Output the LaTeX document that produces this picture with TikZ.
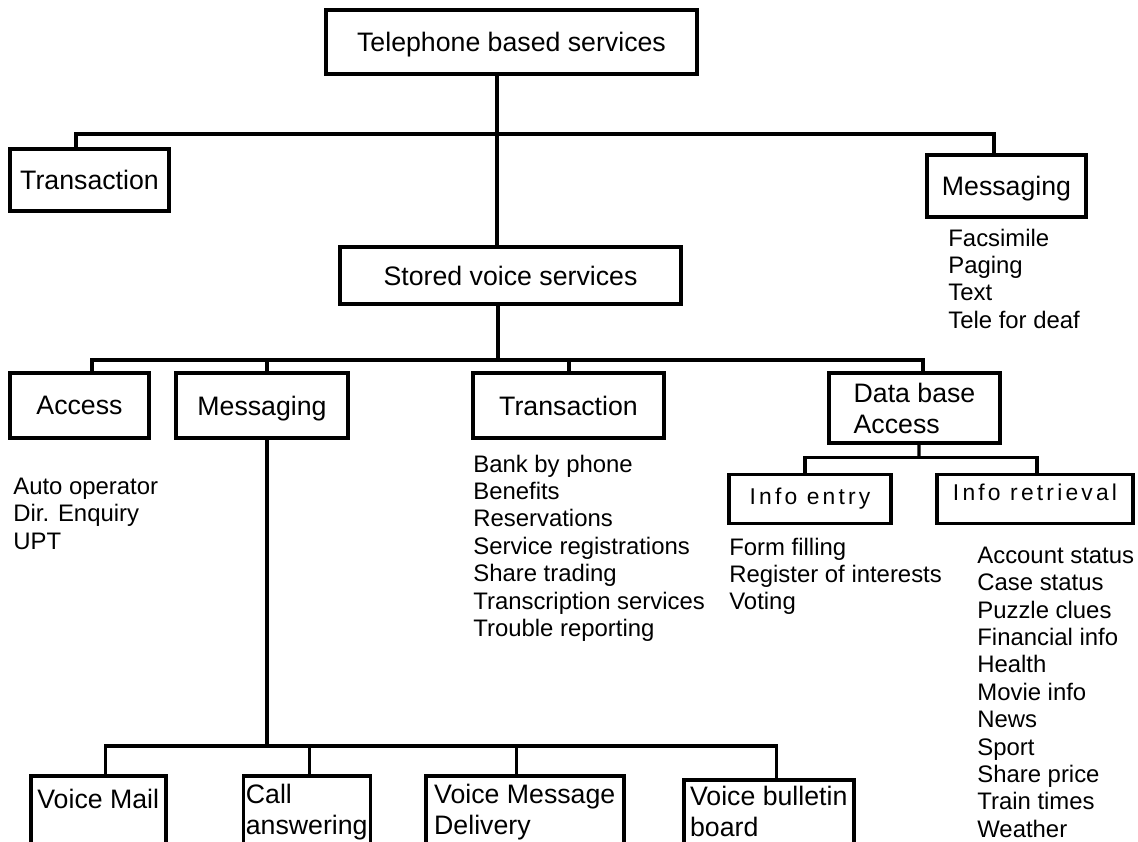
\documentclass[tikz,border=0pt]{standalone}
\usepackage{fontspec}
\setmainfont{Liberation Sans}
\usepackage{tikz}
\usetikzlibrary{positioning}
\newlength{\px}
\setlength{\px}{0.02cm}
\newcommand{\boxfont}{\fontsize{15.2}{17.6}\selectfont}
\newcommand{\listfont}{\fontsize{13.6}{15.6}\selectfont}
\newcommand{\infofont}{\fontsize{13}{15.6}\selectfont\addfontfeature{LetterSpace=14}}

\begin{document}
\begin{tikzpicture}
  [
    x=0.02cm, y=-0.02cm,
    Box/.style={rectangle, draw=black, line width=2pt, font=\boxfont, inner sep=2\px, text depth=0pt},
    Info/.style={rectangle, draw=black, line width=2pt, font=\infofont, inner sep=2\px, text depth=14\px},
    Leaf/.style={Box, anchor=north west, align=left, text depth=100\px},
    List/.style={anchor=north west, align=left, inner sep=0pt, font=\listfont},
    Line/.style={draw=black, line width=1.8pt}
  ]
  \useasboundingbox (0,0) rectangle (1138,841);
  \clip (0,0) rectangle (1138,841);
  % Nodes
  \node[Box, minimum width=371\px, minimum height=64\px] (tel) at (511.5,42) {Telephone based services};
  \node[Box, minimum width=159\px, minimum height=62\px] (trans1) at (89.5,180) {Transaction};
  \node[Box, minimum width=159\px, minimum height=62\px] (msg1) at (1006.5,186) {Messaging};
  \node[List] (faxlist) at (948,228.5) {Facsimile\\Paging\\Text\\Tele for deaf};
  \node[Box, minimum width=341\px, minimum height=57\px] (svs) at (510.5,275.5) {Stored voice services};
  \node[Box, minimum width=139\px, minimum height=65\px] (access) at (79.5,405.5) {Access};
  \node[Box, minimum width=172\px, minimum height=65\px] (msg2) at (262,405.5) {Messaging};
  \node[Box, minimum width=191\px, minimum height=65\px] (trans2) at (568.5,405.5) {Transaction};
  \node[Box, align=left, minimum width=171\px, minimum height=70\px] (dba) at (914.5,408) {Data base\\Access};
  \node[List] (accesslist) at (13,477.5) {Auto operator\\Dir. Enquiry\\UPT};
  \node[List] (translist) at (473,454.5) {Bank by phone\\Benefits\\Reservations\\Service registrations\\Share trading\\Transcription services\\Trouble reporting};
  \node[Info, minimum width=162\px, minimum height=49\px, text depth=5\px] (ientry) at (810,499) {Info entry};
  \node[Info, minimum width=196\px, minimum height=49\px] (iretr) at (1035,499) {Info retrieval};
  \node[List] (entrylist) at (729,537.5) {Form filling\\Register of interests\\Voting};
  \node[List] (retrlist) at (977,546.5) {Account status\\Case status\\Puzzle clues\\Financial info\\Health\\Movie info\\News\\Sport\\Share price\\Train times\\Weather};
  \node[Leaf, minimum width=135\px, inner ysep=13.5\px] (vmail) at (29,774) {Voice Mail};
  \node[Leaf, minimum width=127\px, inner ysep=8\px] (call) at (241.5,774) {Call\\answering};
  \node[Leaf, minimum width=198\px, inner ysep=8\px] (vmd) at (424,774) {Voice Message\\Delivery};
  \node[Leaf, minimum width=170\px, inner ysep=6\px] (vbb) at (682,778) {Voice bulletin\\board};
  \coordinate (hub1) at (497,134);
  \coordinate (hub2) at (498,360);
  \coordinate (hub3) at (267,746);
  \coordinate (hub4) at (919,457.5);
  % Lines
  \path [Line] ([xshift=-14.5\px]tel.south) -- ([xshift=-13.5\px]svs.north);
  \path [Line] ([xshift=-13.5\px]trans1.north) |- (hub1) -| ([xshift=-12.5\px]msg1.north);
  \path [Line] ([xshift=-12.5\px]svs.south) -- (hub2);
  \path [Line] ([xshift=12.5\px]access.north) |- (hub2) -| ([xshift=8.5\px]dba.north);
  \path [Line] ([xshift=5\px]msg2.north) -- ++(0,-13);
  \path [Line] ([xshift=0.5\px]trans2.north) -- ++(0,-13);
  \path [Line] ([xshift=5\px]msg2.south) -- (hub3);
  \path [Line] ([xshift=7.5\px]vmail.north) |- (hub3) -| ([xshift=8\px]vbb.north);
  \path [Line] ([xshift=2.5\px]call.north) -- ++(0,-28);
  \path [Line] ([xshift=-8\px]vmd.north) -- ++(0,-28);
  \path [Line] ([xshift=4.5\px]dba.south) -- (hub4);
  \path [Line] ([xshift=-5\px]ientry.north) |- (hub4) -| ([xshift=2\px]iretr.north);
\end{tikzpicture}
\end{document}
